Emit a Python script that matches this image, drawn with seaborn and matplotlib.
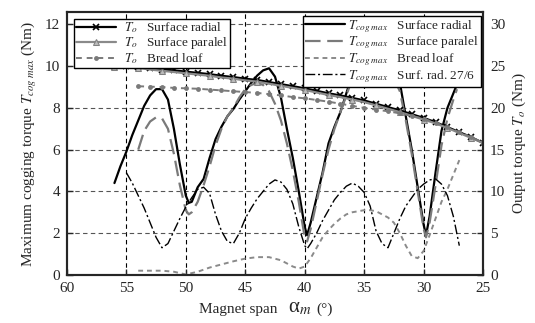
import matplotlib
matplotlib.use("Agg")
import matplotlib.pyplot as plt
import seaborn as sns
import numpy as np
import pandas as pd

# ---- output torque T_o (right axis), every degree 56 -> 25 ----
span_out = [56, 55, 54, 53, 52, 51, 50, 49, 48, 47, 46, 45, 44, 43, 42, 41,
            40, 39, 38, 37, 36, 35, 34, 33, 32, 31, 30, 29, 28, 27, 26, 25]
to_radial = [25.0, 25.0, 24.9, 24.75, 24.6, 24.5, 24.35, 24.2, 24.05, 23.85, 23.7,
             23.5, 23.35, 23.1, 22.85, 22.6, 22.35, 22.05, 21.75, 21.5, 21.2, 20.9,
             20.5, 20.1, 19.7, 19.25, 18.8, 18.3, 17.7, 17.1, 16.5, 15.8]
to_paralel = [24.95, 24.9, 24.8, 24.6, 24.45, 24.3, 24.15, 24.0, 23.85, 23.65, 23.5,
              23.3, 23.15, 22.9, 22.65, 22.4, 22.15, 21.85, 21.55, 21.3, 21.0, 20.7,
              20.3, 19.9, 19.5, 19.05, 18.6, 18.15, 17.6, 17.0, 16.4, 15.8]
span_bread = [54, 53, 52, 51, 50, 49, 48, 47, 46, 45, 44, 43, 42, 41, 40, 39,
              38, 37, 36, 35, 34, 33, 32, 31, 30, 29, 28, 27, 26, 25]
to_bread = [22.6, 22.55, 22.5, 22.4, 22.35, 22.3, 22.2, 22.1, 22.0, 21.9, 21.8,
            21.65, 21.5, 21.3, 21.15, 20.95, 20.75, 20.5, 20.25, 20.0, 19.8, 19.6,
            19.35, 19.05, 18.7, 18.25, 17.7, 17.1, 16.5, 15.8]

# ---- maximum cogging torque (left axis) ----
span_rad = [56, 55.5, 55, 54.5, 54, 53.5, 53, 52.5, 52, 51.5, 51, 50.5, 50, 49.75,
            49.5, 49, 48.5, 48, 47.5, 47, 46.5, 46, 45.5, 45, 44.5, 44, 43.5, 43,
            42.5, 42, 41.5, 41, 40.5, 40, 39.8, 39.5, 39, 38.5, 38, 37.5, 37, 36.5,
            36, 35.5, 35, 34.5, 34, 33.5, 33, 32.5, 32, 31.5, 31, 30.5, 30, 29.8,
            29.5, 29, 28.5, 28, 27.5, 27]
cog_radial = [4.4, 5.2, 5.9, 6.7, 7.4, 8.1, 8.6, 8.9, 8.9, 8.4, 7.0, 5.3, 3.8, 3.45,
              3.5, 4.2, 4.6, 5.6, 6.5, 7.1, 7.6, 7.95, 8.4, 8.8, 9.2, 9.55, 9.8, 9.9,
              9.5, 8.5, 7.0, 5.6, 4.0, 2.3, 1.9, 2.5, 3.7, 4.9, 6.3, 7.1, 7.8, 8.7,
              9.6, 10.3, 10.8, 10.95, 10.9, 10.6, 10.2, 9.7, 9.2, 7.6, 6.0, 4.2,
              2.4, 1.9, 2.8, 4.9, 6.9, 8.0, 8.7, 9.4]
span_par = [54, 53.5, 53, 52.5, 52, 51.5, 51, 50.5, 50, 49.75, 49.5, 49, 48.5, 48,
            47.5, 47, 46.5, 46, 45.5, 45, 44.5, 44, 43.5, 43, 42.5, 42, 41.5, 41,
            40.5, 40, 39.8, 39.5, 39, 38.5, 38, 37.5, 37, 36.5, 36, 35.5, 35, 34.5,
            34, 33.5, 33, 32.5, 32, 31.5, 31, 30.5, 30, 29.8, 29.5, 29, 28.5, 28,
            27.5, 27.2]
cog_paralel = [6.0, 6.9, 7.35, 7.55, 7.5, 7.0, 5.8, 4.3, 3.1, 2.9, 3.0, 3.5, 4.3,
               5.2, 6.2, 7.0, 7.6, 8.0, 8.5, 8.9, 9.1, 9.2, 9.1, 8.8, 8.2, 7.4, 6.3,
               5.0, 3.5, 1.8, 1.6, 2.2, 3.5, 4.8, 6.0, 7.0, 7.8, 8.6, 9.4, 10.1,
               10.6, 10.8, 10.8, 10.5, 10.0, 9.4, 8.8, 7.4, 5.8, 4.0, 2.2, 1.8, 2.5,
               4.3, 6.2, 7.5, 8.4, 8.9]
span_bl = [54, 53, 52, 51, 50, 49, 48, 47, 46, 45, 44, 43, 42, 41.5, 41, 40.5, 40,
           39.5, 39, 38.5, 38, 37.5, 37, 36.5, 36, 35.5, 35, 34.5, 34, 33.5, 33,
           32.5, 32, 31.5, 31, 30.5, 30, 29.5, 29, 28.5, 28, 27.5, 27]
cog_bread = [0.2, 0.2, 0.2, 0.15, 0.02, 0.15, 0.35, 0.5, 0.65, 0.78, 0.85, 0.85,
             0.7, 0.55, 0.4, 0.3, 0.4, 0.8, 1.3, 1.8, 2.15, 2.45, 2.7, 2.9, 3.0,
             3.05, 3.1, 3.1, 3.05, 2.9, 2.75, 2.5, 2.0, 1.4, 0.9, 0.8, 1.15, 1.9,
             2.7, 3.5, 4.1, 4.8, 5.5]
span_276 = [55, 54.5, 54, 53.5, 53, 52.5, 52, 51.5, 51, 50.5, 50, 49.5, 49, 48.5,
            48, 47.5, 47, 46.5, 46, 45.5, 45, 44.5, 44, 43.5, 43, 42.5, 42, 41.5,
            41, 40.5, 40, 39.8, 39.5, 39, 38.5, 38, 37.5, 37, 36.5, 36, 35.5, 35,
            34.5, 34, 33.5, 33, 32.5, 32, 31.5, 31, 30.5, 30, 29.5, 29, 28.5, 28,
            27.5, 27]
cog_276 = [4.9, 4.4, 3.8, 3.2, 2.5, 1.8, 1.3, 1.5, 2.1, 2.7, 3.25, 3.7, 4.1, 4.2,
           3.9, 2.9, 2.1, 1.6, 1.5, 2.0, 2.7, 3.2, 3.65, 4.0, 4.35, 4.55, 4.45,
           4.1, 3.4, 2.3, 1.4, 1.25, 1.5, 2.0, 2.6, 3.1, 3.6, 3.95, 4.25, 4.4,
           4.25, 3.95, 3.3, 2.1, 1.5, 1.3, 2.0, 2.7, 3.3, 3.7, 4.1, 4.35, 4.55,
           4.6, 4.35, 3.8, 2.8, 1.4]

sns.set_style("ticks")
plt.rcParams["font.family"] = ["Liberation Serif", "DejaVu Serif"]
plt.rcParams["mathtext.fontset"] = "stix"

fig = plt.figure(figsize=(5.35, 3.23), dpi=100)
ax1 = fig.add_axes([0.125, 0.149, 0.778, 0.814])
ax2 = ax1.twinx()

# --- cogging torque on left axis ---
sns.lineplot(x=span_rad, y=cog_radial, ax=ax1, color="black", linewidth=1.6,
             sort=False, label=r"$T_{cog\ max}$   Surface radial")
sns.lineplot(x=span_par, y=cog_paralel, ax=ax1, color="#7a7a7a", linewidth=1.6,
             linestyle=(0, (7, 3)), sort=False,
             label=r"$T_{cog\ max}$   Surface paralel")
sns.lineplot(x=span_bl, y=cog_bread, ax=ax1, color="#8a8a8a", linewidth=1.4,
             linestyle=(0, (2.5, 2)), sort=False,
             label=r"$T_{cog\ max}$   Bread loaf")
sns.lineplot(x=span_276, y=cog_276, ax=ax1, color="black", linewidth=1.0,
             linestyle=(0, (7, 2, 1.5, 2)), sort=False,
             label=r"$T_{cog\ max}$   Surf. rad. 27/6")

# --- output torque on right axis ---
sns.lineplot(x=span_out, y=to_radial, ax=ax2, color="black", linewidth=1.6,
             marker="x", markersize=4, markeredgewidth=1.2,
             markeredgecolor="black", sort=False,
             label=r"$T_o$   Surface radial")
sns.lineplot(x=span_out, y=to_paralel, ax=ax2, color="#8a8a8a", linewidth=1.6,
             marker="^", markersize=4, markevery=2, markerfacecolor="#bbbbbb",
             markeredgecolor="#808080", sort=False,
             label=r"$T_o$   Surface paralel")
sns.lineplot(x=span_bread, y=to_bread, ax=ax2, color="#7a7a7a", linewidth=1.4,
             linestyle=(0, (3, 2.5)), marker="o", markersize=3.5,
             markeredgewidth=0, sort=False, label=r"$T_o$   Bread loaf")

ax1.set_xlim(60, 25)
ax1.set_ylim(0, 12.6)
ax2.set_ylim(0, 31.5)
ax1.set_xticks(np.arange(60, 24, -5))
ax1.set_yticks(np.arange(0, 13, 2))
ax2.set_yticks(np.arange(0, 31, 5))

for v in range(55, 29, -5):
    ax1.axvline(v, color="black", linestyle=(0, (4, 3)), linewidth=0.8, zorder=0)
for v in range(2, 13, 2):
    ax1.axhline(v, color="#555555", linestyle=(0, (4, 3)), linewidth=0.8, zorder=0)

ax1.set_xlabel("")
ax1.text(0.505, -0.13, "Magnet span", transform=ax1.transAxes, fontsize=11,
         ha="right", va="center")
ax1.text(0.532, -0.125, r"$\mathregular{\alpha}_m$", transform=ax1.transAxes,
         fontsize=15, ha="left", va="center")
ax1.text(0.6, -0.13, "(°)", transform=ax1.transAxes, fontsize=11,
         ha="left", va="center")
ax1.set_ylabel(r"Maximum cogging torque $T_{cog\ max}$ (Nm)", fontsize=11)
ax2.set_ylabel(r"Output torque $T_o$ (Nm)", fontsize=11)

for ax in (ax1, ax2):
    ax.tick_params(direction="in", length=4, width=1, labelsize=11, pad=3)
    for s in ax.spines.values():
        s.set_linewidth(1.5)
        s.set_visible(True)
ax1.tick_params(axis="x", pad=5)
ax1.tick_params(axis="y", pad=5)
ax2.tick_params(axis="y", pad=5)

h1, l1 = ax1.get_legend_handles_labels()
h2, l2 = ax2.get_legend_handles_labels()
if ax1.get_legend() is not None:
    ax1.get_legend().remove()
ax2.get_legend().remove()

leg1 = ax2.legend(h2, l2, loc="upper left", bbox_to_anchor=(0.018, 0.975),
                  fontsize=9.5, frameon=True, fancybox=False, framealpha=1,
                  edgecolor="black", borderpad=0.15, labelspacing=0.0,
                  handlelength=3, handletextpad=0.6, borderaxespad=0)
leg1.get_frame().set_linewidth(1.0)
ax2.add_artist(leg1)
leg2 = ax2.legend(h1, l1, loc="upper right", bbox_to_anchor=(0.995, 0.985),
                  fontsize=9.5, frameon=True, fancybox=False, framealpha=1,
                  edgecolor="black", borderpad=0.15, labelspacing=0.0,
                  handlelength=3, handletextpad=0.3, borderaxespad=0)
leg2.get_frame().set_linewidth(1.0)

fig.savefig("out.png", dpi=100)
